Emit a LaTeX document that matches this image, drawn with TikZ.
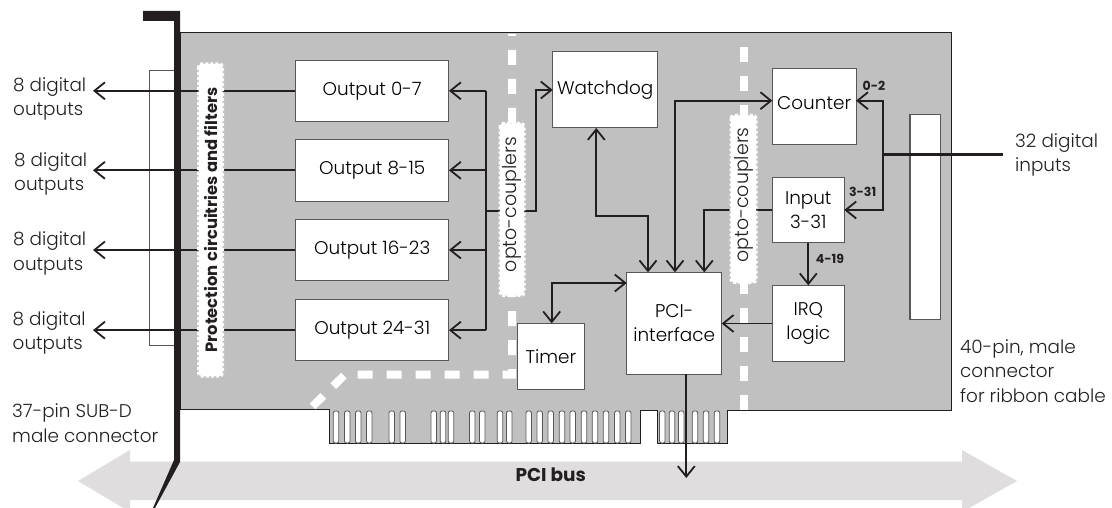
\documentclass[tikz,border=0pt]{standalone}
\usepackage{fontspec}
\setmainfont{Poppins Light}[BoldFont={Poppins Bold}]
\usetikzlibrary{arrows.meta}
\definecolor{pcbgrey}{HTML}{C0C0C0}
\definecolor{busgrey}{HTML}{DFDDDE}
\definecolor{inkdark}{HTML}{231F20}
\definecolor{boxedge}{HTML}{5A5655}

\begin{document}
\begin{tikzpicture}[x=1pt,y=-1pt,>={Straight Barb[length=10.5pt,width=17pt,line width=1.8pt]},
 outbox/.style={draw=boxedge,fill=white,line width=1pt,inner sep=0pt,outer sep=0pt,minimum width=153.5pt,minimum height=61.5pt,align=center,font=\fontsize{18.4}{24}\selectfont},
 blockbox/.style={draw=boxedge,fill=white,line width=1pt,inner sep=0pt,outer sep=0pt,align=center,font=\fontsize{18.4}{24.5}\selectfont},
 caption/.style={inner sep=0pt,align=left,text=inkdark,font=\fontsize{18.4}{24.6}\selectfont},
 pinlabel/.style={inner sep=0pt,text=inkdark,font=\fontsize{12.5}{14}\bfseries\selectfont},
 isostrip/.style={fill=white,draw=white,line width=3pt,densely dashed,rounded corners=3pt,inner sep=0pt,rotate=90,text=inkdark},
 wire/.style={draw=inkdark,line width=2.3pt},
 thinwire/.style={draw=inkdark,line width=1.7pt},
 barrier/.style={draw=white,line width=8pt,dash pattern=on 15pt off 14pt},
 finger/.style={draw=boxedge,fill=white,line width=0.8pt,rounded corners=2pt}]
\useasboundingbox (0,0) rectangle (1112,508);
% bus and board
\fill[busgrey] (78,481)--(130,450)--(130,461.5)--(962,461.5)--(962,450)--(1017,481)--(962,512)--(962,500)--(130,500)--(130,512)--cycle;
\node[inner sep=0pt,text=inkdark,font=\fontsize{18.5}{20}\bfseries\selectfont](bus) at (550.7,475){PCI bus};
\draw[fill=pcbgrey,draw=inkdark,line width=1pt] (180,32.5)--(951,32.5)--(951,410)--(727,410)--(727,443)--(657,443)--(657,410)--(640,410)--(640,443)--(329,443)--(329,409.5)--(180,409.5)--cycle;
\foreach \x in {336,347.3,358.3,369.3,391.7,402.7,433.7,443,451,472.3,482.3,500,509.3,528.7,539.7,550.7,562,572.7,584,595,606,617.3,628.3,662.3,672,681.3,695,706,717}
 \draw[finger] (\x-2.75,411)rectangle(\x+2.75,443);
% isolation barriers
\draw[barrier,dash phase=13pt] (512,34)--(512,374.5)--(345,374.5)--(312,407);
\draw[barrier] (744,47)--(744,410);
% connectors on the board edge
\fill[inkdark] (143,11)--(180,11)--(180,462)--(155,508)--(153,508)--(174,460)--(174,21)--(143,21)--cycle;
\draw[draw=boxedge,line width=0.8pt] (174,70)--(149.5,70)--(149.5,345)--(174,345);
\node[draw=boxedge,fill=white,line width=1.2pt,inner sep=0pt,minimum width=30.7pt,minimum height=205.4pt](ribbon) at (925.3,217){};
% blocks
\node[outbox](outa) at (372.2,90.8){Output 0-7};
\node[outbox](outb) at (372.2,170.3){Output 8-15};
\node[outbox](outc) at (372.2,250){Output 16-23};
\node[outbox](outd) at (372.2,330.2){Output 24-31};
\node[blockbox,minimum width=105pt,minimum height=76pt](watchdog) at (605.2,90){\raisebox{2pt}{Watchdog}};
\node[blockbox,minimum width=66.3pt,minimum height=65.7pt](timer) at (550.9,356.2){Timer};
\node[blockbox,minimum width=95pt,minimum height=101.7pt](pci) at (674.2,323.2){PCI-\\interface};
\node[blockbox,minimum width=83.7pt,minimum height=76pt](counter) at (814.2,106.3){\raisebox{6pt}{Counter}};
\node[blockbox,minimum width=72pt,minimum height=65.4pt](input) at (808.3,210){Input\\3-31};
\node[blockbox,minimum width=72pt,minimum height=76.4pt](irq) at (808.3,323.5){IRQ\\logic};
% bend points
\coordinate(outbus) at (486,211);
\coordinate(wdbend) at (535.7,90);
\coordinate(wdpci) at (648,216);
\coordinate(wdlow) at (596.3,216);
\coordinate(cntpci) at (675,100.7);
\coordinate(inpci) at (704.3,210);
\coordinate(timerpci) at (551.7,283);
\coordinate(inbus) at (883.3,154.5);
\coordinate(infree) at (1003,154.5);
\coordinate(pciout) at (686.3,478);
\coordinate(outa-end) at (93,90.8);
\coordinate(outb-end) at (93,170.3);
\coordinate(outc-end) at (93,250);
\coordinate(outd-end) at (93,330.2);
% wires
\draw[->,wire] (outa.west)--(outa-end);
\draw[->,thinwire] (outb.west)--(outb-end);
\draw[->,wire] (outc.west)--(outc-end);
\draw[->,thinwire] (outd.west)--(outd-end);
\draw[->,wire] (outbus|-outc.east)--(outc.east);
\draw[->,thinwire] (outbus|-outb.east)--(outb.east);
\draw[->,wire] (outbus|-outa.east) -- (outa.east);
\draw[->,wire] (outbus|-outd.east) -- (outd.east);
\draw[wire] (outbus|-outa.east)--(outbus|-outd.east);
\draw[->,wire] (outbus)-|(wdbend)--(watchdog.west|-wdbend);
\draw[<->,wire] (pci.north-|wdpci)--(wdpci)--(wdlow)--(watchdog.south-|wdlow);
\draw[<->,wire] (pci.north-|cntpci)--(cntpci)--(counter.west|-cntpci);
\draw[->,wire] (input.west|-inpci)--(inpci)--(pci.north-|inpci);
\draw[<->,wire] (timer.north-|timerpci)--(timerpci)--(pci.west|-timerpci);
\draw[->,thinwire] (irq.west)--(pci.east|-irq.west);
\draw[->,thinwire] (input.south)--(irq.north);
\draw[wire] (infree)--(inbus);
\draw[->,wire] (inbus)--(inbus|-cntpci)--(counter.east|-cntpci);
\draw[->,wire] (inbus)--(inbus|-inpci)--(input.east|-inpci);
\draw[->,thinwire] (pci.south-|pciout)--(pciout);
% strips
\node[isostrip,minimum width=312pt,minimum height=24pt,font=\fontsize{16.4}{18}\bfseries\selectfont](protect) at (210.5,220){Protection circuitries and filters};
\node[isostrip,minimum width=172pt,minimum height=24pt,font=\fontsize{19}{20}\selectfont](optoa) at (512,209.5){\hspace*{10pt}opto-couplers};
\node[isostrip,minimum width=167pt,minimum height=25pt,font=\fontsize{19}{20}\selectfont](optob) at (743.5,199){\hspace*{8pt}opto-couplers};
% labels
\node[caption,anchor=west](capa) at (13,99){8 digital\\outputs};
\node[caption,anchor=west](capb) at (14,174){8 digital\\outputs};
\node[caption,anchor=west](capc) at (13,253.5){8 digital\\outputs};
\node[caption,anchor=west](capd) at (12.5,333){8 digital\\outputs};
\node[caption,anchor=west](capsub) at (12,423){37-pin SUB-D\\male connector};
\node[caption,anchor=west](capribbon) at (960,371){40-pin, male\\connector\\for ribbon cable};
\node[caption,anchor=west](capin) at (1015,155){32 digital\\inputs};
\node[pinlabel](pina) at (874,86){0-2};
\node[pinlabel](pinb) at (862.7,192){3-31};
\node[pinlabel](pinc) at (830,259){4-19};
\end{tikzpicture}
\end{document}
